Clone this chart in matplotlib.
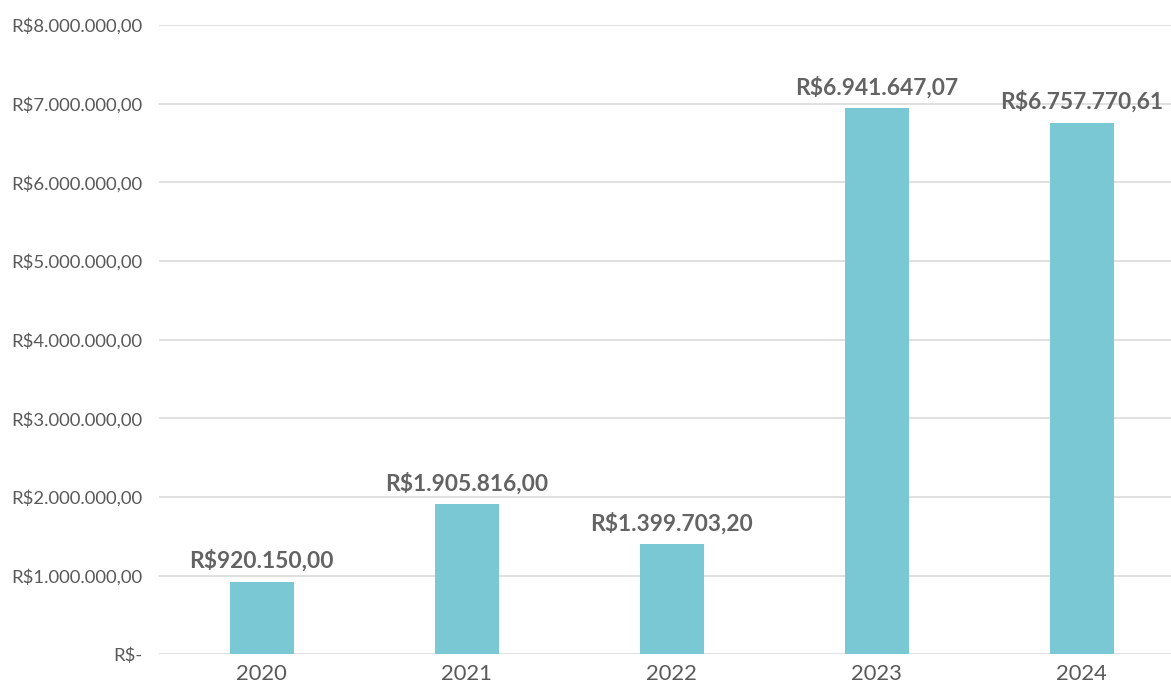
import matplotlib
matplotlib.use("Agg")
import matplotlib.pyplot as plt
from matplotlib.ticker import FuncFormatter

years = ["2020", "2021", "2022", "2023", "2024"]
values = [920150.00, 1905816.00, 1399703.20, 6941647.07, 6757770.61]
yticks = [0, 1e6, 2e6, 3e6, 4e6, 5e6, 6e6, 7e6, 8e6]

def brl(v):
    s = f"{v:,.2f}"
    return "R$" + s.replace(",", "X").replace(".", ",").replace("X", ".")

def tickfmt(v, pos):
    if v == 0:
        return "R$-"
    return brl(v)

plt.rcParams['font.family'] = ['Lato', 'DejaVu Sans']

W, H = 1171, 686
fig = plt.figure(figsize=(W / 100, H / 100), dpi=100)
left, right = 159, 1184
top, bottom = 25, 654.3
ax = fig.add_axes([left / W, 1 - bottom / H, (right - left) / W, (bottom - top) / H])

x = list(range(len(years)))
bars = ax.bar(x, values, width=64 / 205, color="#7BC8D5", zorder=3)
ax.set_xlim(-0.5, len(years) - 0.5)
ax.set_ylim(0, 8e6)
ax.set_yticks(yticks)
ax.yaxis.set_major_formatter(FuncFormatter(tickfmt))
ax.set_xticks(x)
ax.set_xticklabels(years)
ax.grid(axis="y", color="#DDDDDD", linewidth=1.3, zorder=0)
for s in ax.spines.values():
    s.set_visible(False)
ax.tick_params(axis="both", length=0, colors="#595959")
ax.tick_params(axis="y", labelsize=13.3, pad=12)
ax.tick_params(axis="x", labelsize=15.8, pad=7)

for xi, v in zip(x, values):
    ax.annotate(brl(v), (xi, v), xytext=(0, 7), textcoords="offset points",
                ha="center", va="bottom", fontsize=16.4, fontweight="bold",
                color="#636363")

fig.savefig("out.png", dpi=100)
